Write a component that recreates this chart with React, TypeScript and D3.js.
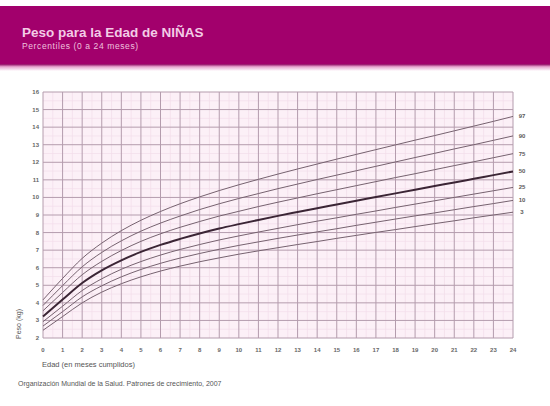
import React from "react"
import * as d3 from "d3"

// WHO weight-for-age, girls 0-24 months (kg)
const months = d3.range(0, 25)
const p3 = [2.44, 3.22, 4.00, 4.61, 5.09, 5.48, 5.81, 6.09, 6.34, 6.56, 6.77, 6.96, 7.14, 7.32, 7.49, 7.67, 7.84, 8.01, 8.17, 8.34, 8.51, 8.67, 8.84, 9.00, 9.16]
const p10 = [2.68, 3.50, 4.34, 4.97, 5.48, 5.90, 6.25, 6.55, 6.81, 7.05, 7.27, 7.47, 7.67, 7.86, 8.04, 8.22, 8.41, 8.59, 8.77, 8.95, 9.12, 9.30, 9.48, 9.65, 9.83]
const p25 = [2.93, 3.81, 4.70, 5.37, 5.91, 6.35, 6.72, 7.04, 7.32, 7.58, 7.81, 8.03, 8.24, 8.45, 8.65, 8.84, 9.04, 9.23, 9.43, 9.62, 9.81, 10.00, 10.19, 10.38, 10.57]
const p50 = [3.23, 4.19, 5.13, 5.85, 6.42, 6.90, 7.30, 7.64, 7.95, 8.23, 8.48, 8.72, 8.95, 9.17, 9.39, 9.60, 9.81, 10.02, 10.23, 10.44, 10.65, 10.85, 11.06, 11.27, 11.48]
const p75 = [3.55, 4.59, 5.60, 6.36, 6.98, 7.50, 7.93, 8.30, 8.63, 8.94, 9.21, 9.48, 9.73, 9.97, 10.21, 10.44, 10.67, 10.90, 11.13, 11.35, 11.58, 11.81, 12.03, 12.26, 12.49]
const p90 = [3.85, 4.98, 6.05, 6.87, 7.53, 8.08, 8.54, 8.94, 9.31, 9.64, 9.94, 10.22, 10.50, 10.76, 11.02, 11.27, 11.52, 11.77, 12.02, 12.27, 12.51, 12.76, 13.00, 13.25, 13.50]
const p97 = [4.17, 5.39, 6.53, 7.40, 8.11, 8.70, 9.20, 9.64, 10.03, 10.39, 10.72, 11.03, 11.33, 11.62, 11.90, 12.18, 12.45, 12.72, 12.99, 13.26, 13.52, 13.79, 14.06, 14.33, 14.61]

const series = [
    {label: "97", values: p97},
    {label: "90", values: p90},
    {label: "75", values: p75},
    {label: "50", values: p50},
    {label: "25", values: p25},
    {label: "10", values: p10},
    {label: "3", values: p3},
]

const yTicks = d3.range(2, 17)
const xTicks = d3.range(0, 25)

const W = 550
const H = 406
const margin = {top: 92, bottom: 68, left: 43, right: 37}

const App = () => {
    const x = d3.scaleLinear().domain([0, 24]).range([margin.left, W - margin.right])
    const y = d3.scaleLinear().domain([2, 16]).range([H - margin.bottom, margin.top])
    const line = d3.line<number>()
        .x((_, i) => x(months[i]))
        .y(d => y(d))
        .curve(d3.curveMonotoneX)

    const minorX = d3.range(0.5, 24, 1)
    const minorY = d3.range(2.5, 16, 1)
    const font = "Arial, 'Liberation Sans', sans-serif"

    return (
        <svg width={W} height={H} style={{position: "absolute", left: 0, top: 0, background: "#fff"}}
             fontFamily={font}>
            <defs>
                <linearGradient id="fade" x1="0" x2="0" y1="0" y2="1">
                    <stop offset="0%" stopColor="#8e005e"/>
                    <stop offset="40%" stopColor="#e7a6cf"/>
                    <stop offset="100%" stopColor="#ffffff"/>
                </linearGradient>
            </defs>

            {/* header band */}
            <rect x={0} y={6} width={W} height={58} fill="#a2006c"/>
            <rect x={0} y={64} width={W} height={7} fill="url(#fade)"/>
            <text x={22} y={37} fontSize={13.5} fontWeight="bold" fill="#f3cbe6">Peso para la Edad de NIÑAS</text>
            <text x={22} y={48.5} fontSize={8.5} letterSpacing={0.6} fill="#efc0df">Percentiles (0 a 24 meses)</text>

            {/* plot background and grid */}
            <rect x={x(0)} y={y(16)} width={x(24) - x(0)} height={y(2) - y(16)} fill="#fcf0f7"/>
            {minorX.map(m => (
                <line key={"mx" + m} x1={x(m)} x2={x(m)} y1={y(16)} y2={y(2)} stroke="#f2dcea" strokeWidth={0.7}/>
            ))}
            {minorY.map(v => (
                <line key={"my" + v} x1={x(0)} x2={x(24)} y1={y(v)} y2={y(v)} stroke="#f2dcea" strokeWidth={0.7}/>
            ))}
            {xTicks.map(m => (
                <line key={"gx" + m} x1={x(m)} x2={x(m)} y1={y(16)} y2={y(2)} stroke="#b49cad" strokeWidth={1}/>
            ))}
            {yTicks.map(v => (
                <line key={"gy" + v} x1={x(0)} x2={x(24)} y1={y(v)} y2={y(v)} stroke="#b49cad" strokeWidth={1}/>
            ))}

            {/* percentile curves */}
            {series.map(s => (
                <path key={s.label} d={line(s.values) || ""} fill="none"
                      stroke={s.label === "50" ? "#3b2535" : "#76626f"}
                      strokeWidth={s.label === "50" ? 2 : 1}/>
            ))}
            {series.map(s => (
                <text key={"l" + s.label} x={x(24) + 9} y={y(s.values[24]) + 2} fontSize={6} fontWeight="bold"
                      fill="#5a5a5a" textAnchor="middle">{s.label}</text>
            ))}

            {/* axes labels */}
            {yTicks.map(v => (
                <text key={"ty" + v} x={x(0) - 4} y={y(v) + 2} fontSize={6} fontWeight="bold" fill="#666"
                      textAnchor="end">{v}</text>
            ))}
            {xTicks.map(m => (
                <text key={"tx" + m} x={x(m)} y={y(2) + 14} fontSize={6} fontWeight="bold" fill="#666"
                      textAnchor="middle">{m}</text>
            ))}
            <text x={42} y={367} fontSize={7.5} fill="#555">Edad (en meses cumplidos)</text>
            <text transform={`translate(21, ${324}) rotate(-90)`} fontSize={7} fill="#555"
                  textAnchor="middle">Peso (kg)</text>
            <text x={18} y={386} fontSize={7} fill="#555">Organización Mundial de la Salud. Patrones de crecimiento, 2007</text>
        </svg>
    )
}

export default App
